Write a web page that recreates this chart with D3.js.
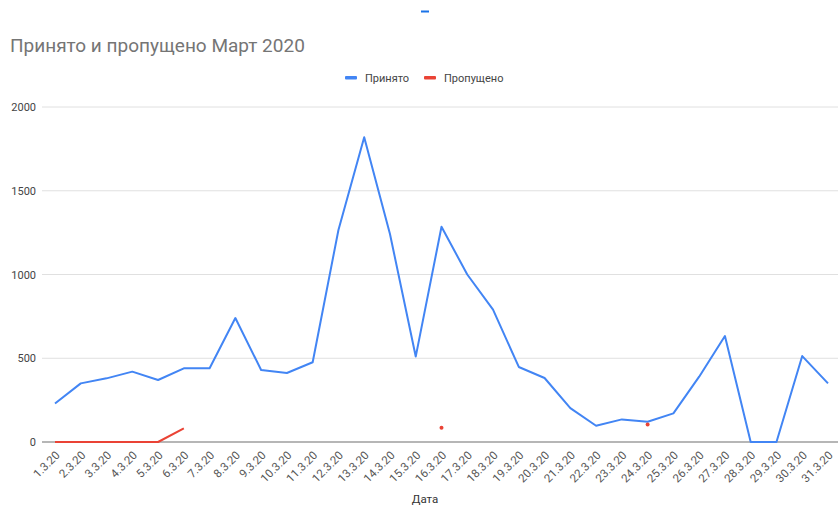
<!DOCTYPE html>
<html><head><meta charset="utf-8">
<script src="https://cdn.jsdelivr.net/npm/d3@7"></script>
<style>html,body{margin:0;padding:0;background:#fff;}svg{display:block;font-family:Roboto,Arial,sans-serif;}</style>
</head><body>
<script>
const categories = ["1.3.20","2.3.20","3.3.20","4.3.20","5.3.20","6.3.20","7.3.20","8.3.20","9.3.20","10.3.20","11.3.20","12.3.20","13.3.20","14.3.20","15.3.20","16.3.20","17.3.20","18.3.20","19.3.20","20.3.20","21.3.20","22.3.20","23.3.20","24.3.20","25.3.20","26.3.20","27.3.20","28.3.20","29.3.20","30.3.20","31.3.20"];
const accepted = [230,350,380,420,370,440,440,740,430,412,476,1266,1820,1242,510,1285,1000,790,448,382,202,97,135,121,171,390,633,0,0,513,350];
const missed = [0,0,0,0,0,82,null,null,null,null,null,null,null,null,null,85,null,null,null,null,null,null,null,105,null,null,null,null,null,null,null];
const yTicks = [0,500,1000,1500,2000];
const seriesNames = ["Принято","Пропущено"];
const colors = ["#4285f4","#ea4335"];

const W = 838, H = 507;
const svg = d3.select("body").append("svg").attr("width", W).attr("height", H);

const x = d3.scalePoint().domain(categories).range([55, 828]);
const y = d3.scaleLinear().domain([0, 2000]).range([442, 107]);

// top decoration
svg.append("rect").attr("x", 421).attr("y", 10.5).attr("width", 8).attr("height", 2).attr("fill", "#1a73e8");

// title
svg.append("text").attr("x", 10).attr("y", 52).attr("font-size", 19).attr("fill", "#757575")
  .text("Принято и пропущено Март 2020");

// gridlines
svg.append("g").selectAll("line").data(yTicks.filter(d => d > 0)).join("line")
  .attr("x1", 42).attr("x2", W).attr("y1", d => y(d)).attr("y2", d => y(d))
  .attr("stroke", "#e0e0e0").attr("stroke-width", 1);

// y axis labels
const yAxis = d3.axisLeft(y).tickValues(yTicks).tickSize(0).tickPadding(0).tickFormat(d3.format("d"));
const gy = svg.append("g").attr("transform", "translate(36,0)").call(yAxis);
gy.select(".domain").remove();
gy.selectAll("text").attr("font-size", 11).attr("fill", "#444").attr("font-family", "Roboto,Arial,sans-serif");

// baseline
svg.append("line").attr("x1", 42).attr("x2", W).attr("y1", y(0)).attr("y2", y(0))
  .attr("stroke", "#9e9e9e").attr("stroke-width", 1.5);

// x axis labels
const xAxis = d3.axisBottom(x).tickSize(0).tickPadding(0);
const gx = svg.append("g").attr("transform", `translate(0,${y(0)})`).call(xAxis);
gx.select(".domain").remove();
gx.selectAll("text").attr("font-size", 11.5).attr("fill", "#555").attr("font-family", "Roboto,Arial,sans-serif")
  .attr("text-anchor", "end").attr("dy", null).attr("y", 0)
  .attr("transform", "translate(5,14) rotate(-45)");

// x axis title
svg.append("text").attr("x", 425).attr("y", 503).attr("text-anchor", "middle")
  .attr("font-size", 11.5).attr("fill", "#333").text("Дата");

// lines
const line = d3.line().defined(d => d != null).x((d, i) => x(categories[i])).y(d => y(d));
svg.append("path").datum(accepted).attr("d", line).attr("fill", "none")
  .attr("stroke", colors[0]).attr("stroke-width", 2).attr("stroke-linejoin", "round");
svg.append("path").datum(missed).attr("d", line).attr("fill", "none")
  .attr("stroke", colors[1]).attr("stroke-width", 2).attr("stroke-linejoin", "round");

// isolated points
const iso = missed.map((d, i) => ({d, i})).filter(o => o.d != null &&
  (o.i === 0 || missed[o.i - 1] == null) && (o.i === missed.length - 1 || missed[o.i + 1] == null));
svg.append("g").selectAll("circle").data(iso).join("circle")
  .attr("cx", o => x(categories[o.i])).attr("cy", o => y(o.d)).attr("r", 2).attr("fill", colors[1]);

// legend
const leg = svg.append("g");
const legX = [345, 424];
seriesNames.forEach((n, i) => {
  leg.append("rect").attr("x", legX[i]).attr("y", 76).attr("width", 12).attr("height", 3.5).attr("rx", 1).attr("fill", colors[i]);
  leg.append("text").attr("x", legX[i] + 20).attr("y", 81.5).attr("font-size", 11).attr("fill", "#444").text(n);
});
</script>
</body></html>
